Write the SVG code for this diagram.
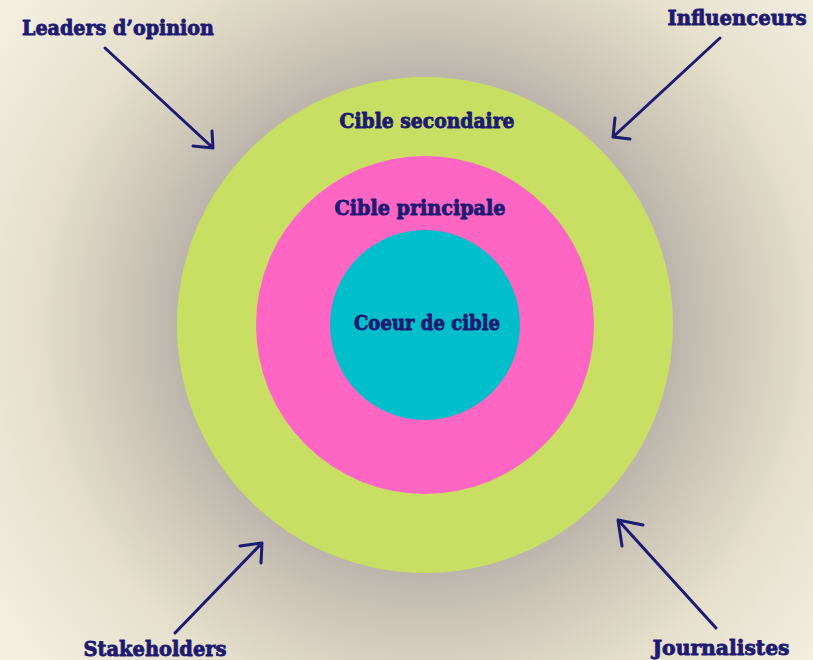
<svg xmlns="http://www.w3.org/2000/svg" width="813" height="660" viewBox="0 0 813 660">
<defs>
<radialGradient id="bg" gradientUnits="userSpaceOnUse" cx="425" cy="325" r="520">
<stop offset="0" stop-color="#a9a49e"/>
<stop offset="0.47" stop-color="#bab4ab"/>
<stop offset="0.6" stop-color="#d1cabb"/>
<stop offset="0.76" stop-color="#e6e0cd"/>
<stop offset="1" stop-color="#f3f0e2"/>
</radialGradient>
<style>
.lbl{font-family:"DejaVu Serif","Liberation Serif",serif;font-weight:bold;fill:#1d1a72;stroke:#1d1a72;stroke-width:0.9;stroke-linejoin:round;font-size:21px}
.arr{fill:none;stroke:#1d1a72;stroke-width:3;stroke-linecap:round;stroke-linejoin:round}
</style>
</defs>
<rect width="813" height="660" fill="url(#bg)"/>
<g id="cible-secondaire">
<circle cx="425" cy="325" r="248" fill="#c8df64"/>
<text class="lbl" x="427" y="128" text-anchor="middle" textLength="175" lengthAdjust="spacingAndGlyphs">Cible secondaire</text>
</g>
<g id="cible-principale">
<circle cx="425" cy="325" r="169" fill="#ff66c4"/>
<text class="lbl" x="420" y="215" text-anchor="middle" textLength="171" lengthAdjust="spacingAndGlyphs">Cible principale</text>
</g>
<g id="coeur-de-cible">
<circle cx="425" cy="325" r="95" fill="#00bfca"/>
<text class="lbl" x="427" y="330" text-anchor="middle" textLength="146" lengthAdjust="spacingAndGlyphs">Coeur de cible</text>
</g>
<g id="leaders">
<text class="lbl" x="118" y="35" text-anchor="middle" textLength="192" lengthAdjust="spacingAndGlyphs">Leaders d’opinion</text>
</g>
<g id="influenceurs">
<text class="lbl" x="737" y="25" text-anchor="middle" textLength="139" lengthAdjust="spacingAndGlyphs">Influenceurs</text>
</g>
<g id="stakeholders">
<text class="lbl" x="155" y="656" text-anchor="middle" textLength="143" lengthAdjust="spacingAndGlyphs">Stakeholders</text>
</g>
<g id="journalistes">
<text class="lbl" x="721" y="655" text-anchor="middle" textLength="137" lengthAdjust="spacingAndGlyphs">Journalistes</text>
</g>
<g id="connectors">
<path class="arr" d="M105 48 L213 148 M193 146 L213 148 L212 131"/>
<path class="arr" d="M720 38 L613 137 M630 139 L613 137 L615 118"/>
<path class="arr" d="M175 633 L262 543 M240 546 L262 543 L261 563"/>
<path class="arr" d="M716 628 L618 520 M643 525 L618 520 L622 546"/>
</g>
</svg>
